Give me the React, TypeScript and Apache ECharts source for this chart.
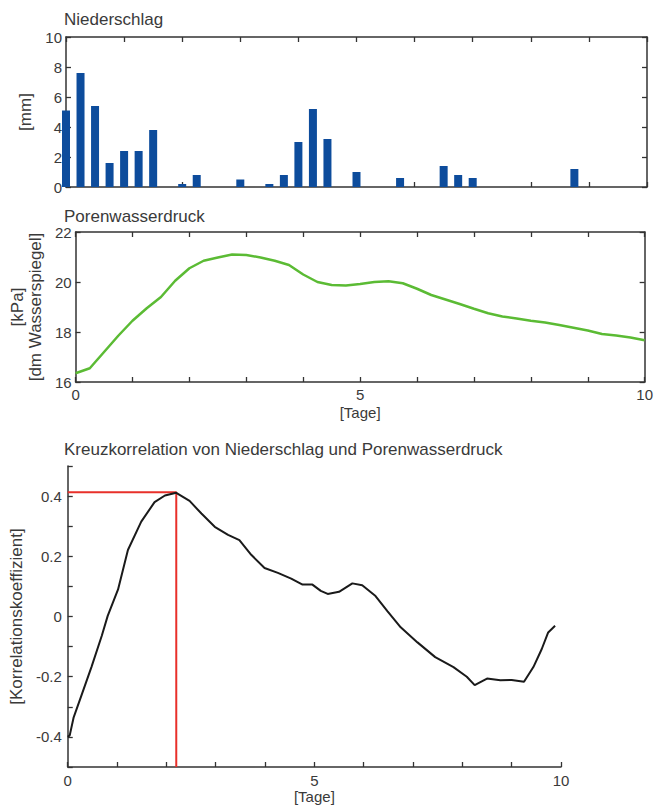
import React, { useEffect, useRef } from "react";
import * as echarts from "echarts";

// ---- Data ----
const rainDays = [0, 0.25, 0.5, 0.75, 1, 1.25, 1.5, 2, 2.25, 3, 3.5, 3.75, 4, 4.25, 4.5, 5, 5.75, 6.5, 6.75, 7, 8.75];
const rainMm = [5.1, 7.6, 5.4, 1.6, 2.4, 2.4, 3.8, 0.2, 0.8, 0.5, 0.2, 0.8, 3.0, 5.2, 3.2, 1.0, 0.6, 1.4, 0.8, 0.6, 1.2];

const pressureDays = [0, 0.25, 0.5, 0.75, 1, 1.25, 1.5, 1.75, 2, 2.25, 2.5, 2.75, 3, 3.25, 3.5, 3.75, 4, 4.25, 4.5, 4.75, 5, 5.25, 5.5, 5.75, 6, 6.25, 6.5, 6.75, 7, 7.25, 7.5, 7.75, 8, 8.25, 8.5, 8.75, 9, 9.25, 9.5, 9.75, 10];
const pressureKPa = [16.35, 16.55, 17.2, 17.85, 18.45, 18.95, 19.4, 20.05, 20.55, 20.85, 20.98, 21.1, 21.08, 20.98, 20.85, 20.68, 20.3, 20.0, 19.88, 19.86, 19.92, 20.0, 20.03, 19.95, 19.73, 19.48, 19.3, 19.12, 18.93, 18.75, 18.62, 18.54, 18.45, 18.38, 18.28, 18.17, 18.06, 17.92, 17.86, 17.78, 17.67];

const corrLag = [0, 0.04, 0.12, 0.28, 0.48, 0.69, 0.81, 1.02, 1.22, 1.49, 1.76, 1.97, 2.2, 2.47, 2.71, 2.98, 3.25, 3.48, 3.72, 3.99, 4.26, 4.53, 4.76, 4.96, 5.13, 5.27, 5.5, 5.77, 5.97, 6.24, 6.48, 6.75, 7.09, 7.45, 7.82, 8.09, 8.25, 8.5, 8.77, 9.0, 9.25, 9.44, 9.61, 9.74, 9.88];
const corrCoef = [-0.4, -0.395, -0.335, -0.261, -0.168, -0.064, 0.002, 0.09, 0.221, 0.315, 0.38, 0.402, 0.411, 0.384, 0.342, 0.298, 0.271, 0.254, 0.205, 0.161, 0.145, 0.126, 0.106, 0.106, 0.085, 0.075, 0.082, 0.11, 0.104, 0.068, 0.018, -0.036, -0.086, -0.135, -0.168, -0.2, -0.228, -0.206, -0.212, -0.211, -0.217, -0.168, -0.108, -0.053, -0.031];

const peakLag = 2.2;
const peakCorr = 0.413;

const dayTickLabels = ["0", "5", "10"];
const corrTickLabels = ["-0.4", "-0.2", "0", "0.2", "0.4"];

const titles = ["Niederschlag", "Porenwasserdruck", "Kreuzkorrelation von Niederschlag und Porenwasserdruck"];

// ---- Styles ----
const FONT = "'Liberation Sans', Arial, Helvetica, sans-serif";
const TEXT = "#3a3a3a";
const AXIS = "#333333";

export default function App() {
  const ref = useRef<HTMLDivElement>(null);

  useEffect(() => {
    if (!ref.current) return;
    const chart = echarts.init(ref.current, undefined, { renderer: "svg" });

    const axisLine = { show: true, onZero: false, lineStyle: { color: AXIS, width: 1.5 } };
    const tickIn = { show: true, inside: true, length: 5, lineStyle: { color: AXIS, width: 1.3 } };
    const lbl = { color: TEXT, fontSize: 15, fontFamily: FONT };
    const dayFmt = (v: number) => (dayTickLabels.includes(String(Math.round(v))) && Math.abs(v - Math.round(v)) < 1e-6 ? String(Math.round(v)) : "");
    const corrFmt = (v: number) => {
      const s = String(Math.round(v * 10) / 10);
      return corrTickLabels.includes(s) ? s : "";
    };
    const nameStyle = { color: TEXT, fontSize: 17, fontFamily: FONT };

    const option: any = {
      animation: false,
      backgroundColor: "#ffffff",
      title: titles.map((t, i) => ({
        text: t,
        left: 64,
        top: [11, 208, 441][i],
        padding: 0,
        textStyle: { color: TEXT, fontSize: 17, fontWeight: "normal", fontFamily: FONT },
      })),
      grid: [
        { left: 66, top: 37, width: 581, height: 150 },
        { left: 66, top: 232, width: 581, height: 150 },
        { left: 66, top: 466, width: 495, height: 301 },
      ],
      xAxis: [
        { type: "value", gridIndex: 0, min: 0, max: 10, interval: 1, position: "bottom", axisLine, axisTick: tickIn, axisLabel: { show: false }, splitLine: { show: false } },
        { type: "value", gridIndex: 0, min: 0, max: 10, interval: 1, position: "top", axisLine, axisTick: tickIn, axisLabel: { show: false }, splitLine: { show: false } },
        {
          type: "value", gridIndex: 1, min: 0, max: 10, interval: 1, position: "bottom", axisLine, axisTick: tickIn,
          axisLabel: { ...lbl, margin: 5, formatter: dayFmt }, splitLine: { show: false },
          name: "[Tage]", nameLocation: "middle", nameGap: 23, nameTextStyle: { ...lbl },
        },
        { type: "value", gridIndex: 1, min: 0, max: 10, interval: 1, position: "top", axisLine, axisTick: tickIn, axisLabel: { show: false }, splitLine: { show: false } },
        {
          type: "value", gridIndex: 2, min: 0, max: 10, interval: 1, position: "bottom", axisLine, axisTick: tickIn,
          axisLabel: { ...lbl, margin: 6, formatter: dayFmt }, splitLine: { show: false },
          name: "[Tage]", nameLocation: "middle", nameGap: 21, nameTextStyle: { ...lbl },
        },
      ],
      yAxis: [
        {
          type: "value", gridIndex: 0, min: 0, max: 10, interval: 2, position: "left", axisLine, axisTick: tickIn,
          axisLabel: { ...lbl, margin: 4 }, splitLine: { show: false },
          name: "[mm]", nameLocation: "middle", nameGap: 23, nameRotate: 90, nameTextStyle: nameStyle,
        },
        { type: "value", gridIndex: 0, min: 0, max: 10, interval: 2, position: "right", axisLine, axisTick: tickIn, axisLabel: { show: false }, splitLine: { show: false } },
        {
          type: "value", gridIndex: 1, min: 16, max: 22, interval: 2, position: "left", axisLine, axisTick: tickIn,
          axisLabel: { ...lbl, margin: 4 }, splitLine: { show: false },
          name: "[kPa]\n[dm Wasserspiegel]", nameLocation: "middle", nameGap: 24, nameRotate: 90,
          nameTextStyle: { ...nameStyle, lineHeight: 18 },
        },
        { type: "value", gridIndex: 1, min: 16, max: 22, interval: 2, position: "right", axisLine, axisTick: tickIn, axisLabel: { show: false }, splitLine: { show: false } },
        {
          type: "value", gridIndex: 2, min: -0.5, max: 0.5, interval: 0.1, position: "left", axisLine, axisTick: tickIn,
          axisLabel: { ...lbl, margin: 6, formatter: corrFmt }, splitLine: { show: false },
          name: "[Korrelationskoeffizient]", nameLocation: "middle", nameGap: 36, nameRotate: 90, nameTextStyle: nameStyle,
        },
      ],
      series: [
        {
          type: "bar",
          xAxisIndex: 0,
          yAxisIndex: 0,
          barWidth: 8,
          clip: true,
          itemStyle: { color: "#0d4c9c" },
          data: rainDays.map((d, i) => [d, rainMm[i]]),
          z: 1,
        },
        {
          type: "line",
          xAxisIndex: 2,
          yAxisIndex: 2,
          showSymbol: false,
          symbol: "none",
          lineStyle: { color: "#5bbb34", width: 2.5 },
          data: pressureDays.map((d, i) => [d, pressureKPa[i]]),
        },
        {
          type: "line",
          xAxisIndex: 4,
          yAxisIndex: 4,
          showSymbol: false,
          symbol: "none",
          lineStyle: { color: "#1a1a1a", width: 2 },
          data: corrLag.map((d, i) => [d, corrCoef[i]]),
        },
        {
          type: "line",
          xAxisIndex: 4,
          yAxisIndex: 4,
          showSymbol: false,
          symbol: "none",
          lineStyle: { color: "#e8302a", width: 2 },
          data: [[0, peakCorr], [peakLag, peakCorr], [peakLag, -0.5]],
          z: 1,
        },
      ],
    };

    chart.setOption(option);
    return () => chart.dispose();
  }, []);

  return <div ref={ref} style={{ position: "absolute", left: 0, top: 0, width: 656, height: 805 }} />;
}
